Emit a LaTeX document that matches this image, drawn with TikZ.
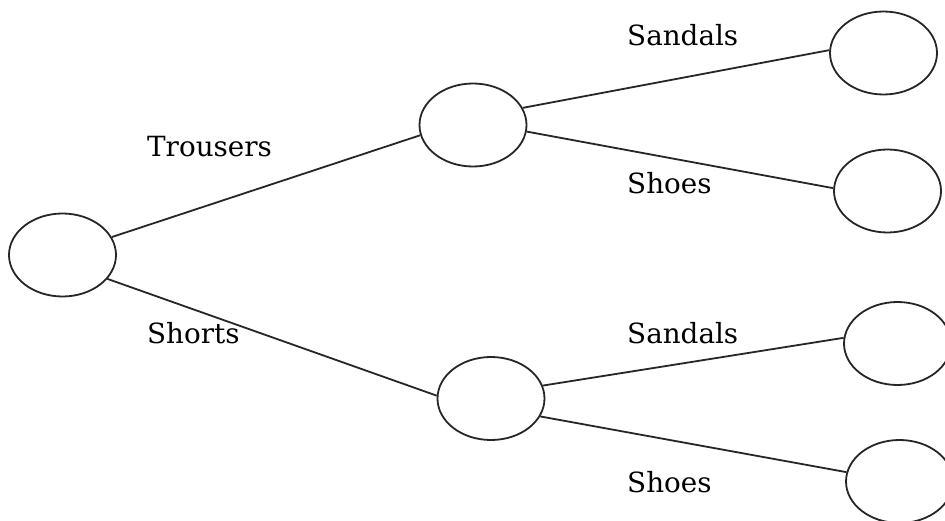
\documentclass[tikz,border=0pt]{standalone}
\usepackage{fontspec}
\setmainfont{DejaVu Serif}
\usetikzlibrary{shapes.geometric}
\begin{document}
\begin{tikzpicture}[x=1pt,y=-1pt,
  oval/.style={draw=black!85, ellipse, line width=1.8pt, inner sep=0pt, minimum width=107pt, minimum height=83pt},
  edge/.style={draw=black!85, line width=1.8pt},
  lbl/.style={anchor=base west, inner sep=0pt, font=\fontsize{27.8}{33}\selectfont}]
\clip (0,0) rectangle (945,521);
\fill[white] (0,0) rectangle (945,521);
\node[oval] (root) at (62.5,255) {};
\node[oval] (um) at (473,125) {};
\node[oval] (lm) at (491,398.5) {};
\node[oval] (l1) at (883.5,53) {};
\node[oval] (l2) at (887.5,191) {};
\node[oval] (l3) at (897.5,343.5) {};
\node[oval] (l4) at (899.5,481.5) {};
\draw[edge] (root.20) -- (um.191);
\draw[edge] (root.-28) -- (lm.177);
\draw[edge] (um.19) -- (l1.177);
\draw[edge] (um.-7) -- (l2.177);
\draw[edge] (lm.14) -- (l3.174);
\draw[edge] (lm.-20) -- (l4.170);
\node[lbl] (t1) at (147,157) {Trousers};
\node[lbl] (t2) at (147,343) {Shorts};
\node[lbl] (t3) at (627,46) {Sandals};
\node[lbl] (t4) at (627,194) {Shoes};
\node[lbl] (t5) at (627,344) {Sandals};
\node[lbl] (t6) at (627,492) {Shoes};
\end{tikzpicture}
\end{document}
